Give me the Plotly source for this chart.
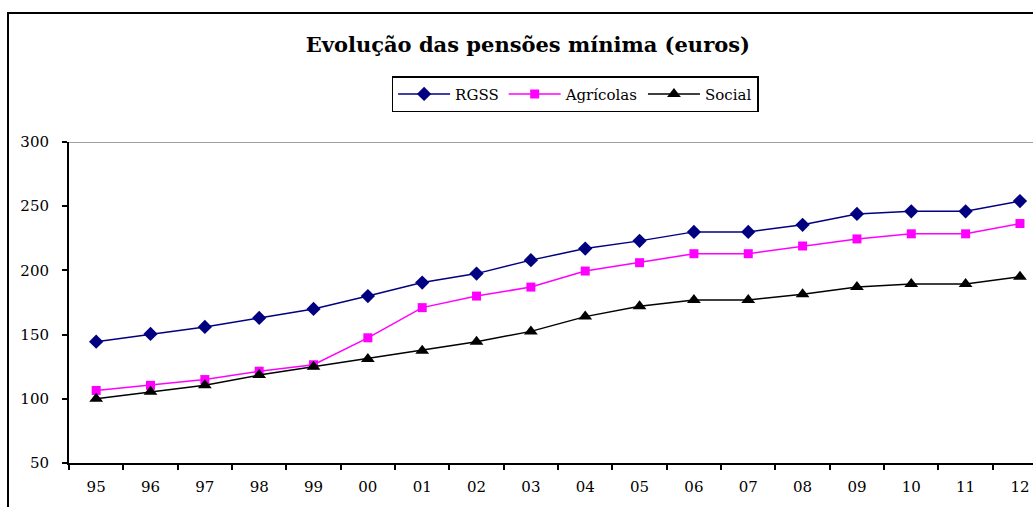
import plotly.graph_objects as go

years = ["95", "96", "97", "98", "99", "00", "01", "02", "03",
         "04", "05", "06", "07", "08", "09", "10", "11", "12"]
rgss = [144.5, 150.5, 156, 163, 170, 180, 190.5, 197.5, 208,
        217, 223, 230, 230, 235.5, 244, 246, 246, 254]
agricolas = [106.5, 110.5, 115, 121.5, 126.5, 147.5, 171, 180, 187,
             199.5, 206, 213, 213, 219, 224.5, 228.5, 228.5, 236.5]
social = [100, 105.5, 110.5, 118.5, 125, 131, 137.5, 144.5, 152.5,
          164, 172, 177, 177, 181.5, 187, 189.5, 189.5, 195]

SERIF = "DejaVu Serif, Liberation Serif, serif"

fig = go.Figure()
fig.add_trace(go.Scatter(
    x=years, y=rgss, name="RGSS", mode="lines+markers",
    line=dict(color="#000080", width=1.5),
    marker=dict(symbol="diamond", size=11, color="#000080")
))
fig.add_trace(go.Scatter(
    x=years, y=agricolas, name="Agrícolas", mode="lines+markers",
    line=dict(color="#FF00FF", width=1.5),
    marker=dict(symbol="square", size=9, color="#FF00FF")
))
fig.add_trace(go.Scatter(
    x=years, y=social, name="Social", mode="lines+markers",
    line=dict(color="#000000", width=1.5),
    marker=dict(symbol="triangle-up", size=12, color="#000000")
))

fig.update_layout(
    width=1033, height=507,
    margin=dict(l=69, r=0, t=142, b=44),
    paper_bgcolor="white", plot_bgcolor="white",
    font=dict(family=SERIF, size=15, color="black"),
    title=dict(
        text="<b>Evolução das pensões mínima (euros)</b>",
        x=0.511, xanchor="center", xref="container",
        y=0.911, yanchor="middle", yref="container",
        font=dict(family=SERIF, size=21, color="black")
    ),
    legend=dict(
        orientation="h", x=0.525, xanchor="center", y=1.205, yanchor="top",
        bordercolor="black", borderwidth=1.5, bgcolor="white",
        font=dict(family=SERIF, size=15), itemwidth=52
    ),
    showlegend=True,
    xaxis=dict(
        type="category", range=[-0.5, 17.24], tickson="boundaries",
        ticks="outside", ticklen=5, tickcolor="black", tickwidth=1.5,
        showline=True, linecolor="black", linewidth=2,
        showgrid=False, zeroline=False, fixedrange=True,
        ticklabelstandoff=9
    ),
    yaxis=dict(
        range=[50, 300], tickvals=[50, 100, 150, 200, 250, 300],
        ticks="outside", ticklen=5, tickcolor="black", tickwidth=1.5,
        showline=True, linecolor="black", linewidth=2,
        showgrid=False, zeroline=False, ticklabelstandoff=10,
        fixedrange=True
    ),
    shapes=[
        dict(type="line", xref="paper", yref="y", x0=0, x1=1, y0=300, y1=300,
             line=dict(color="#808080", width=1.5), layer="below"),
        dict(type="rect", xref="paper", yref="paper",
             x0=(8 - 69) / 964, x1=1.2, y0=(463 - 520) / 321, y1=(463 - 13) / 321,
             line=dict(color="black", width=2), fillcolor="rgba(0,0,0,0)")
    ]
)

fig.write_html("out.html", config={"displayModeBar": False},
               post_script="document.body.style.margin='0';")
